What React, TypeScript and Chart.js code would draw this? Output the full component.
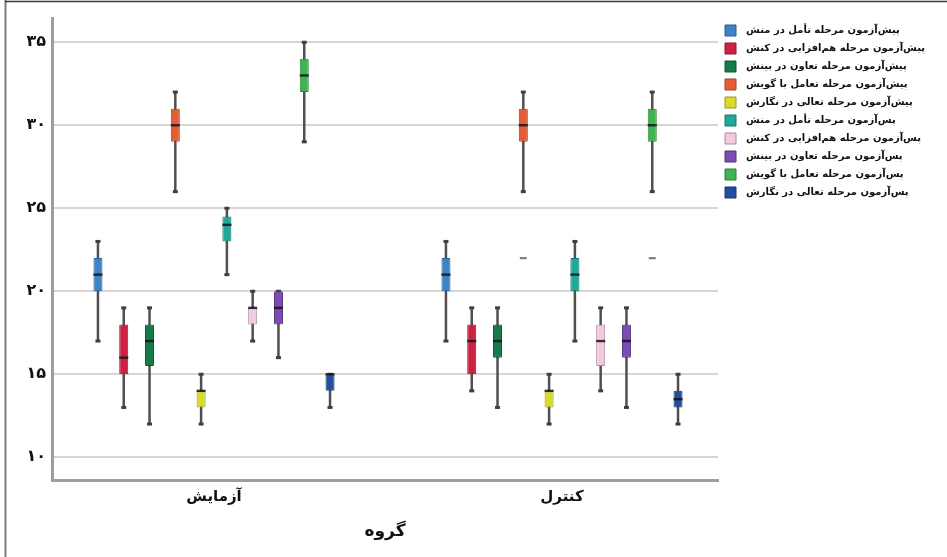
import React, { useEffect, useRef } from 'react';
import { Chart, registerables } from 'chart.js';

Chart.register(...registerables);

// ---- data ----
const groupLabels = ['آزمایش', 'کنترل'];
const groupPositions = [0, 1];
const axisTitle = 'گروه';

const seriesNames = [
  'پیش‌آزمون مرحله تأمل در منش',
  'پیش‌آزمون مرحله هم‌افزایی در کنش',
  'پیش‌آزمون مرحله تعاون در بینش',
  'پیش‌آزمون مرحله تعامل با گویش',
  'پیش‌آزمون مرحله تعالی در نگارش',
  'پس‌آزمون مرحله تأمل در منش',
  'پس‌آزمون مرحله هم‌افزایی در کنش',
  'پس‌آزمون مرحله تعاون در بینش',
  'پس‌آزمون مرحله تعامل با گویش',
  'پس‌آزمون مرحله تعالی در نگارش',
];

const fillColors = ['#3d84c6', '#cc2143', '#177a49', '#e35d36', '#d8db2e', '#1fa99a', '#f2cadf', '#7a4cb4', '#3cb551', '#234d9e'];
const borderColors = ['#2b5d8c', '#8e1730', '#0f5433', '#a04126', '#98991f', '#15766c', '#a98d9c', '#55357e', '#2a7f39', '#18366f'];

// [آزمایش, کنترل] per series
const whiskerMin = [[17, 17], [13, 14], [12, 13], [26, 26], [12, 12], [21, 17], [17, 14], [16, 13], [29, 26], [13, 12]];
const quartile1 = [[20, 20], [15, 15], [15.5, 16], [29, 29], [13, 13], [23, 20], [18, 15.5], [18, 16], [32, 29], [14, 13]];
const medians = [[21, 21], [16, 17], [17, 17], [30, 30], [14, 14], [24, 21], [19, 17], [19, 17], [33, 30], [15, 13.5]];
const quartile3 = [[22, 22], [18, 18], [18, 18], [31, 31], [14, 14], [24.5, 22], [19, 18], [20, 18], [34, 31], [15, 14]];
const whiskerMax = [[23, 23], [19, 19], [19, 19], [32, 32], [15, 15], [25, 23], [20, 19], [20, 19], [35, 32], [15, 15]];
const outliers = [
  [[], []], [[], []], [[], []], [[], [22]], [[], []],
  [[], []], [[], []], [[], []], [[], [22]], [[], []],
];

const yTicks = [10, 15, 20, 25, 30, 35];
const persianDigits = ['۰', '۱', '۲', '۳', '۴', '۵', '۶', '۷', '۸', '۹'];
const toPersian = (n: number) => String(n).replace(/\d/g, (d) => persianDigits[Number(d)]);

const FONT = '"DejaVu Sans", sans-serif';
const LEGEND_FONT = 10;
const LEGEND_BOX = 11;
const LEGEND_PAD = 7;
const LABEL_GAP = '\u2002';

const framePlugin = {
  id: 'frame',
  beforeDraw(chart: any) {
    const { ctx, width, height } = chart;
    ctx.save();
    ctx.fillStyle = '#ffffff';
    ctx.fillRect(0, 0, width, height);
    ctx.strokeStyle = '#7d7d7d';
    ctx.lineWidth = 2;
    ctx.beginPath();
    ctx.moveTo(5.5, 0);
    ctx.lineTo(5.5, height);
    ctx.stroke();
    ctx.strokeStyle = '#3a3a3a';
    ctx.lineWidth = 1.5;
    ctx.beginPath();
    ctx.moveTo(5, 1.5);
    ctx.lineTo(width, 1.5);
    ctx.stroke();
    ctx.restore();
  },
};

const boxPlotPlugin = {
  id: 'boxplotParts',
  beforeDatasetsDraw(chart: any) {
    const { ctx } = chart;
    const y = chart.scales.y;
    ctx.save();
    chart.data.datasets.forEach((_: any, i: number) => {
      const meta = chart.getDatasetMeta(i);
      meta.data.forEach((el: any, g: number) => {
        const x = el.x;
        const yMin = y.getPixelForValue(whiskerMin[i][g]);
        const yMax = y.getPixelForValue(whiskerMax[i][g]);
        ctx.strokeStyle = '#4f4f4f';
        ctx.lineWidth = 2.5;
        ctx.beginPath();
        ctx.moveTo(x, yMax);
        ctx.lineTo(x, yMin);
        ctx.stroke();
        ctx.fillStyle = '#3f3f3f';
        ctx.fillRect(x - 2.5, yMax - 1.5, 5, 3);
        ctx.fillRect(x - 2.5, yMin - 1.5, 5, 3);
        outliers[i][g].forEach((v: number) => {
          const yo = y.getPixelForValue(v);
          ctx.fillStyle = '#808080';
          ctx.fillRect(x - 3.5, yo - 1, 7, 2.2);
        });
      });
    });
    ctx.restore();
  },
  afterDatasetsDraw(chart: any) {
    const { ctx } = chart;
    const y = chart.scales.y;
    ctx.save();
    chart.data.datasets.forEach((_: any, i: number) => {
      const meta = chart.getDatasetMeta(i);
      meta.data.forEach((el: any, g: number) => {
        const ym = y.getPixelForValue(medians[i][g]);
        ctx.fillStyle = 'rgba(20,20,30,0.85)';
        ctx.fillRect(el.x - el.width / 2, ym - 1.2, el.width, 2.4);
      });
    });
    ctx.restore();
  },
};

export default function App() {
  const ref = useRef<HTMLCanvasElement>(null);

  useEffect(() => {
    const canvas = ref.current!;
    const m = document.createElement('canvas').getContext('2d')!;
    m.font = `bold ${LEGEND_FONT}px ${FONT}`;
    const maxW = Math.max(...seriesNames.map((s) => m.measureText(LABEL_GAP + s).width));
    const legendW = LEGEND_PAD + LEGEND_BOX + LEGEND_FONT / 2 + maxW + 10;
    const rightPad = Math.max(0, 947 - 718 - legendW);

    const chart = new Chart(canvas, {
      type: 'bar',
      data: {
        datasets: seriesNames.map((name, i) => ({
          label: name,
          data: groupPositions.map((x, g) => ({ x, y: [quartile1[i][g], quartile3[i][g]] })),
          backgroundColor: fillColors[i],
          borderColor: borderColors[i],
          borderWidth: 1,
          borderSkipped: false,
          borderRadius: 1,
          categoryPercentage: 0.741,
          barPercentage: 0.35,
        })),
      } as any,
      options: {
        animation: false,
        responsive: false,
        layout: { padding: { top: 18, left: 0, bottom: 0, right: rightPad } },
        plugins: {
          tooltip: { enabled: false },
          legend: {
            position: 'right',
            align: 'start',
            labels: {
              boxWidth: LEGEND_BOX,
              boxHeight: LEGEND_BOX,
              padding: LEGEND_PAD,
              color: '#111111',
              font: { family: FONT, size: LEGEND_FONT, weight: 'bold' },
              generateLabels: (c: any) =>
                (Chart as any).defaults.plugins.legend.labels
                  .generateLabels(c)
                  .map((l: any) => ({ ...l, text: LABEL_GAP + l.text })),
            },
          },
        },
        scales: {
          x: {
            type: 'linear',
            min: -0.4655,
            max: 1.4483,
            offset: false,
            afterBuildTicks: (s: any) => {
              s.ticks = groupPositions.map((v) => ({ value: v }));
            },
            afterFit: (s: any) => {
              s.height = 77;
            },
            ticks: {
              autoSkip: false,
              maxRotation: 0,
              padding: 8,
              color: '#111111',
              font: { family: FONT, size: 15, weight: 'bold' },
              callback: (v: any) => groupLabels[groupPositions.indexOf(Number(v))] ?? '',
            },
            grid: { display: true, color: 'rgba(0,0,0,0)', drawTicks: false, offset: false },
            border: { display: true, color: '#9e9e9e', width: 3 },
            title: {
              display: true,
              text: axisTitle,
              color: '#111111',
              font: { family: FONT, size: 17, weight: 'bold' },
              padding: { top: 0, bottom: 15 },
            },
          },
          y: {
            type: 'linear',
            min: 8.63,
            max: 36.46,
            afterBuildTicks: (s: any) => {
              s.ticks = yTicks.map((v) => ({ value: v }));
            },
            afterFit: (s: any) => {
              s.width = 52;
            },
            ticks: {
              padding: 6,
              color: '#111111',
              font: { family: FONT, size: 16, weight: 'bold' },
              callback: (v: any) => toPersian(Number(v)),
            },
            grid: { color: '#d6d6d6', lineWidth: 2, drawTicks: false },
            border: { display: true, color: '#9e9e9e', width: 3 },
          },
        },
      } as any,
      plugins: [framePlugin, boxPlotPlugin],
    });
    return () => chart.destroy();
  }, []);

  return (
    <canvas
      ref={ref}
      width={947}
      height={557}
      style={{ position: 'absolute', left: 0, top: 0, width: 947, height: 557 }}
    />
  );
}
